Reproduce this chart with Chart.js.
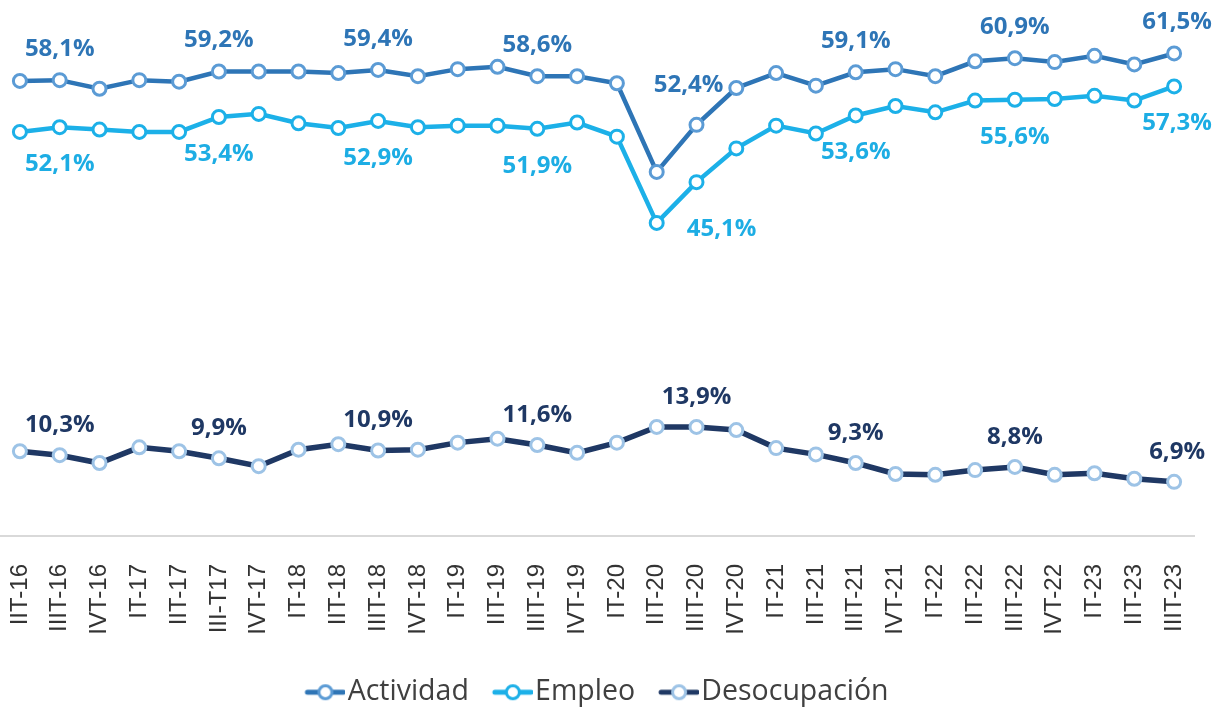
<!DOCTYPE html>
<html>
<head>
<meta charset="utf-8">
<script src="https://cdn.jsdelivr.net/npm/chart.js@4.4.0/dist/chart.umd.min.js"></script>
<style>
  html, body { margin: 0; padding: 0; background: #fff; }
</style>
</head>
<body>
<canvas id="myChart" width="1215" height="709"></canvas>
<script>
const quarters = ["IIT-16", "IIIT-16", "IVT-16", "IT-17", "IIT-17", "III-T17", "IVT-17",
  "IT-18", "IIT-18", "IIIT-18", "IVT-18", "IT-19", "IIT-19", "IIIT-19", "IVT-19",
  "IT-20", "IIT-20", "IIIT-20", "IVT-20", "IT-21", "IIT-21", "IIIT-21", "IVT-21",
  "IT-22", "IIT-22", "IIIT-22", "IVT-22", "IT-23", "IIT-23", "IIIT-23"];

const actividad = [58.0, 58.1, 57.0, 58.1, 57.9, 59.2, 59.2, 59.2, 59.0, 59.4, 58.6, 59.5, 59.8, 58.6, 58.6,
  57.7, 46.4, 52.4, 57.1, 59.0, 57.4, 59.1, 59.5, 58.6, 60.5, 60.9, 60.4, 61.2, 60.1, 61.5];
const empleo = [51.5, 52.1, 51.8, 51.5, 51.5, 53.4, 53.8, 52.6, 52.0, 52.9, 52.1, 52.3, 52.3, 51.9, 52.7,
  50.9, 39.9, 45.1, 49.4, 52.3, 51.3, 53.6, 54.8, 54.0, 55.5, 55.6, 55.7, 56.1, 55.5, 57.3];
const desocupacion = [10.8, 10.3, 9.3, 11.3, 10.8, 9.9, 8.9, 11.0, 11.7, 10.9, 11.0, 11.9, 12.4, 11.6, 10.6,
  11.9, 13.9, 13.9, 13.5, 11.2, 10.4, 9.3, 7.9, 7.8, 8.4, 8.8, 7.8, 8.0, 7.3, 6.9];

// which points get a value label (third quarter of every year)
const labelIdx = [1, 5, 9, 13, 17, 21, 25, 29];

const colors = {
  act: { line: "#2E75B6", ring: "#5B9BD5", text: "#2E75B6", width: 4.5 },
  emp: { line: "#1CB0E8", ring: "#1CB0E8", text: "#1DADE4", width: 4.5 },
  des: { line: "#1F3864", ring: "#9DC3E6", text: "#1F3864", width: 5.5 }
};

// label offsets from the point, per dataset
const labelStyle = [
  { color: colors.act.text, dy: -31, shift: { 17: [-8, -9], 29: [3, 0] } },
  { color: colors.emp.text, dy: 37, shift: { 17: [25, 10], 29: [3, 0] } },
  { color: colors.des.text, dy: -30, shift: { 29: [3, 0] } }
];

// little line + circle picture for the legend
function legendIcon(c) {
  const cv = document.createElement("canvas");
  cv.width = 52;
  cv.height = 20;
  const ctx = cv.getContext("2d");
  ctx.strokeStyle = c.line;
  ctx.lineWidth = 5;
  ctx.lineCap = "round";
  ctx.beginPath();
  ctx.moveTo(14, 10);
  ctx.lineTo(50, 10);
  ctx.stroke();
  ctx.beginPath();
  ctx.arc(32, 10, 6.5, 0, Math.PI * 2);
  ctx.fillStyle = "#fff";
  ctx.fill();
  ctx.lineWidth = 3;
  ctx.strokeStyle = c.ring;
  ctx.stroke();
  return cv;
}

const icons = [legendIcon(colors.act), legendIcon(colors.emp), legendIcon(colors.des)];

function fmt(v) {
  return v.toFixed(1).replace(".", ",") + "%";
}

const pointLabels = {
  id: "pointLabels",
  afterDatasetsDraw(chart) {
    const ctx = chart.ctx;
    chart.data.datasets.forEach((ds, d) => {
      const meta = chart.getDatasetMeta(d);
      const opt = labelStyle[d];
      ctx.save();
      ctx.font = "bold 24px 'Open Sans'";
      ctx.fillStyle = opt.color;
      ctx.textAlign = "center";
      ctx.textBaseline = "middle";
      labelIdx.forEach((i) => {
        const pt = meta.data[i];
        const s = opt.shift[i] || [0, 0];
        ctx.fillText(fmt(ds.data[i]), pt.x + s[0], pt.y + opt.dy + s[1]);
      });
      ctx.restore();
    });
  }
};

function series(label, data, c) {
  return {
    label: label,
    data: data,
    borderColor: c.line,
    backgroundColor: c.line,
    borderWidth: c.width,
    pointRadius: 6.5,
    pointBorderWidth: 3,
    pointBackgroundColor: "#fff",
    pointBorderColor: c.ring,
    tension: 0,
    clip: false
  };
}

const config = {
  type: "line",
  data: {
    labels: quarters,
    datasets: [
      series("Actividad", actividad, colors.act),
      series("Empleo", empleo, colors.emp),
      series("Desocupación", desocupacion, colors.des)
    ]
  },
  options: {
    responsive: false,
    animation: false,
    events: [],
    layout: { autoPadding: false, padding: { top: 26, right: 21, left: 0, bottom: 0 } },
    plugins: {
      tooltip: { enabled: false },
      legend: {
        position: "bottom",
        maxHeight: 55,
        labels: {
          usePointStyle: true,
          pointStyleWidth: 28,
          padding: 24,
          color: "#404040",
          font: { family: "Open Sans", size: 28.5, lineHeight: 1 },
          generateLabels: (chart) =>
            Chart.defaults.plugins.legend.labels.generateLabels(chart).map((item, i) => {
              item.pointStyle = icons[i];
              return item;
            })
        }
      }
    },
    scales: {
      x: {
        offset: true,
        grid: { display: false },
        border: { display: true, color: "#d9d9d9", width: 2 },
        ticks: {
          autoSkip: false,
          minRotation: 90,
          maxRotation: 90,
          padding: 20,
          color: "#333",
          font: { family: "Liberation Sans", size: 24 }
        },
        afterFit(scale) {
          scale.height = 118;
          scale.paddingLeft = 0;
          scale.paddingRight = 0;
        }
      },
      y: { display: false, min: 0, max: 65 }
    }
  },
  plugins: [pointLabels]
};

const myChart = new Chart(document.getElementById("myChart"), config);
</script>
</body>
</html>
